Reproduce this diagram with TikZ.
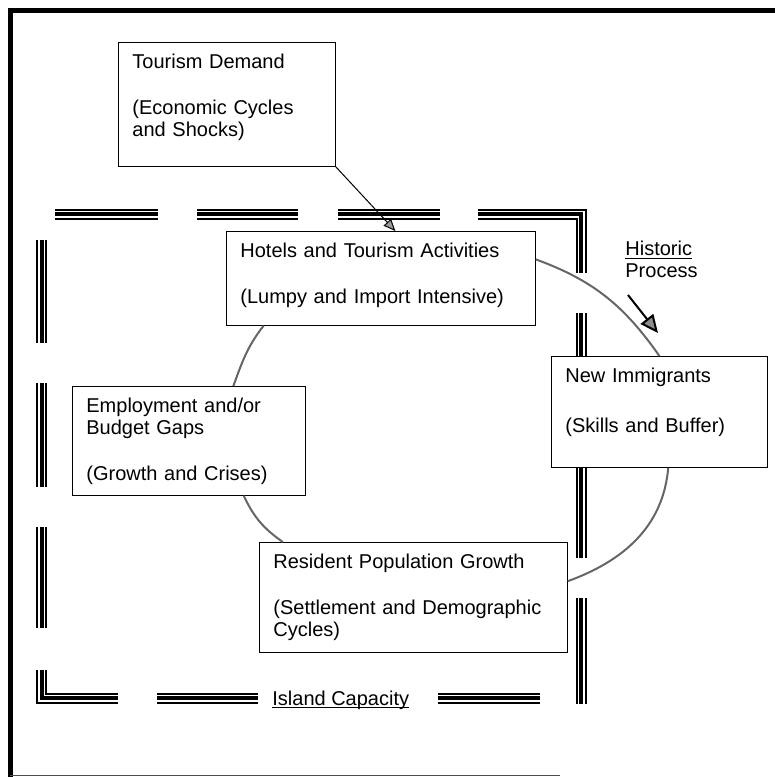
\documentclass[tikz,border=0pt]{standalone}
\usepackage{fontspec}
\setmainfont{Liberation Sans}
\usetikzlibrary{arrows.meta}

\newsavebox{\undlbox}
\newcommand{\undl}[1]{\sbox{\undlbox}{#1}\rlap{\rule[-1.6pt]{\wd\undlbox}{0.6pt}}\usebox{\undlbox}}

\begin{document}
\begin{tikzpicture}[
  x=0.5pt, y=0.5pt,
  every node/.style={font=\fontsize{10}{11}\selectfont},
  box/.style={rectangle,draw,fill=white,anchor=north west,align=left,
    inner xsep=7pt,inner ysep=5.5pt,text height=7.7pt},
  wall/.style={line width=2pt,preaction={draw,line width=5.5pt},
    preaction={draw,white,line width=3.5pt}},
  loopline/.style={draw=black!60,line width=1pt},
  feed/.style={line width=0.5pt,-{Triangle[length=6pt,width=5pt,fill=black!40]}},
  hist/.style={line width=1pt,-{Triangle[length=9pt,width=8pt,fill=black!45]}}
]
\useasboundingbox (0,0) rectangle (775,-777);

% page frame
\draw[line width=2.5pt] (10,-777) -- (10,-10) -- (775,-10);
\draw[line width=0.4pt,black!70] (10,-775) -- (560,-775);

% island capacity walls
\draw[wall] (55,-214) -- (158,-214)
  (197,-214) -- (298,-214)
  (338,-214) -- (440,-214)
  (478,-214) -- (581,-214) -- (581,-273)
  (581,-313) -- (581,-558)
  (581,-598) -- (581,-704)
  (41.5,-240) -- (41.5,-343)
  (41.5,-383) -- (41.5,-487)
  (41.5,-527) -- (41.5,-628)
  (41.5,-670) -- (41.5,-698) -- (118,-698)
  (157,-698) -- (258,-698)
  (438,-698) -- (540,-698);

\node[box,text width=94.5pt,text depth=43.3pt] (td) at (118,-42)
  {Tourism Demand\\[12pt](Economic Cycles\\and Shocks)};
\node[box,text width=140.5pt,text depth=28.3pt] (ht) at (226,-231)
  {Hotels and Tourism Activities\\[12pt](Lumpy and Import Intensive)};
\node[box,text width=102.5pt,text depth=35.8pt] (eg) at (72,-386)
  {Employment and/or\\Budget Gaps\\[12pt](Growth and Crises)};
\node[box,text width=140pt,text depth=36.3pt] (rp) at (259,-542)
  {Resident Population Growth\\[12pt](Settlement and Demographic\\Cycles)};
\node[box,text width=94pt,text depth=36.8pt] (ni) at (551,-356)
  {New Immigrants\\[14pt](Skills and Buffer)};

\node[anchor=north west,inner sep=0pt,align=left] (hp) at (625,-241)
  {\undl{Historic}\\Process};
\node[anchor=base west,inner sep=0pt] (ic) at (272,-705) {\undl{Island Capacity}};

% the cycle
\draw[loopline] (ht.7) to[out=-20,in=125] (ni.north);
\draw[loopline] (ni.-81) to[out=-95,in=20] (rp.6);
\draw[loopline] (rp.157) to[out=145,in=-65] (eg.-45);
\draw[loopline] (eg.51) to[out=70,in=-128] (ht.202);

\draw[feed] (td.south east) -- (ht.73);

\coordinate (hs) at (628,-295);
\coordinate (he) at (658,-333);
\draw[hist] (hs) -- (he);
\end{tikzpicture}
\end{document}
